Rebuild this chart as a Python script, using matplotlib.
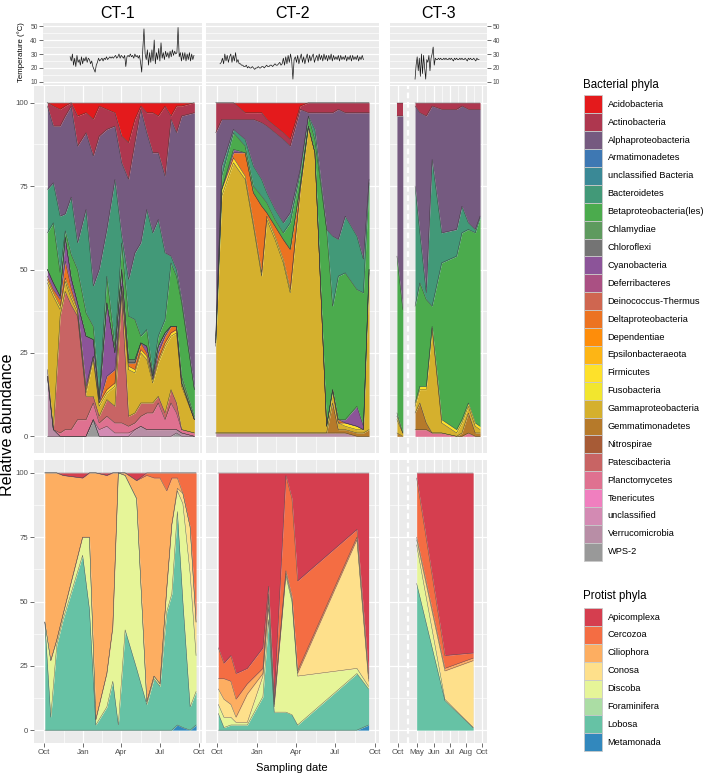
import matplotlib
matplotlib.use("Agg")
import matplotlib.pyplot as plt
import numpy as np
from matplotlib.patches import Rectangle

plt.rcParams['font.family'] = ['Liberation Sans', 'DejaVu Sans']

# ---------------- data ----------------
bact_phyla = ["Acidobacteria", "Actinobacteria", "Alphaproteobacteria", "Armatimonadetes",
              "unclassified Bacteria", "Bacteroidetes", "Betaproteobacteria(les)", "Chlamydiae",
              "Chloroflexi", "Cyanobacteria", "Deferribacteres", "Deinococcus-Thermus",
              "Deltaproteobacteria", "Dependentiae", "Epsilonbacteraeota", "Firmicutes",
              "Fusobacteria", "Gammaproteobacteria", "Gemmatimonadetes", "Nitrospirae",
              "Patescibacteria", "Planctomycetes", "Tenericutes", "unclassified",
              "Verrucomicrobia", "WPS-2"]
bact_colors = ["#E41A1C", "#AE374F", "#755A80", "#3E78B3", "#3A8996", "#429978", "#4BAB4D",
               "#5E9A5E", "#747474", "#8C5499", "#AA5083", "#CF6650", "#EC7321", "#FE8D0A",
               "#FDB515", "#FEE12A", "#F2E62E", "#D5B02D", "#B67A2A", "#A75B36", "#C86464",
               "#DF7190", "#F07FBF", "#D38AB3", "#B88EA6", "#999999"]

prot_phyla = ["Apicomplexa", "Cercozoa", "Ciliophora", "Conosa", "Discoba",
              "Foraminifera", "Lobosa", "Metamonada"]
prot_colors = ["#D53E4F", "#F46D43", "#FDAE61", "#FEE08B", "#E6F598",
               "#ABDDA4", "#66C2A5", "#3288BD"]

# sampling days (days since 1 October)
ct1_days = [8, 22, 38, 50, 64, 79, 99, 116, 130, 148, 167, 183, 199, 214, 228, 242, 256,
            269, 285, 299, 312, 324, 354]
ct1_bact = {
    "Acidobacteria": [0, 1, 2, 1, 0, 4, 3, 5, 1, 2, 3, 10, 12, 5, 1, 3, 3, 4, 1, 4, 1, 1, 0],
    "Actinobacteria": [1, 6, 5, 3, 1, 9, 6, 11, 9, 6, 4, 8, 11, 7, 1, 6, 12, 11, 21, 1, 8, 3, 3],
    "Alphaproteobacteria": [25, 17, 27, 29, 27, 29, 23, 39, 40, 30, 16, 22, 30, 33, 40, 23, 24,
                            20, 23, 41, 41, 55, 83],
    "Bacteroidetes": [13, 12, 17, 5, 17, 8, 31, 12, 38, 14, 50, 2, 11, 20, 28, 36, 42, 35, 20,
                      2, 2, 1, 0],
    "Betaproteobacteria(les)": [11, 18, 7, 2, 7, 10, 7, 4, 1, 8, 2, 8, 13, 12, 2, 5, 1, 3, 4,
                                19, 15, 22, 8],
    "Chlamydiae": [0] * 21 + [2, 1],
    "Chloroflexi": [0] * 12 + [1, 1] + [0] * 9,
    "Cyanobacteria": [2, 2, 1, 7, 3, 2, 15, 5, 1, 22, 5, 5, 0, 0, 0, 2, 1, 2, 1, 0, 0, 0, 0],
    "Deltaproteobacteria": [1, 1, 2, 5, 2, 0, 1, 0, 0, 4, 4, 0, 1, 2, 2, 1, 0, 2, 2, 2, 1, 0, 0],
    "Firmicutes": [1] * 22 + [0],
    "Gammaproteobacteria": [26, 40, 2, 3, 2, 1, 1, 11, 3, 2, 6, 2, 14, 12, 15, 13, 6, 10, 20,
                            16, 21, 13, 4],
    "Patescibacteria": [2, 0, 35, 41, 37, 31, 7, 2, 2, 5, 5, 38, 3, 3, 4, 3, 3, 2, 2, 4, 3, 0, 0],
    "Planctomycetes": [0, 0, 1, 2, 2, 5, 5, 5, 2, 3, 3, 3, 2, 2, 3, 5, 5, 8, 3, 8, 5, 1, 1],
    "unclassified": [0, 0, 0, 0, 0, 0, 0, 0, 2, 3, 1, 1, 1, 0, 0, 0, 0, 0, 0, 0, 0, 0, 0],
    "Verrucomicrobia": [18, 2, 0, 0, 0, 0, 0, 0, 0, 0, 0, 0, 0, 2, 3, 2, 2, 2, 2, 2, 1, 1, 0],
    "WPS-2": [0, 0, 0, 0, 0, 0, 0, 5, 0, 0, 0, 0, 0, 0, 0, 0, 0, 0, 0, 0, 1, 0, 0],
}

ct2_days = [-3, 11, 38, 65, 84, 103, 115, 134, 153, 169, 192, 211, 226, 253, 267, 280, 296,
            323, 338, 351]
ct2_bact = {
    "Acidobacteria": [0, 0, 0, 3, 3, 3, 5, 7, 9, 11, 1, 0, 0, 0, 0, 0, 0, 0, 0, 0],
    "Actinobacteria": [9, 5, 5, 2, 2, 3, 2, 2, 2, 2, 1, 3, 3, 3, 3, 2, 3, 3, 3, 3],
    "Alphaproteobacteria": [61, 14, 3, 6, 14, 17, 20, 23, 25, 20, 18, 1, 5, 35, 37, 39, 31, 37,
                            44, 20],
    "Bacteroidetes": [1, 3, 1, 2, 6, 5, 3, 3, 3, 3, 1, 0, 3, 0, 21, 11, 17, 16, 10, 1],
    "Betaproteobacteria(les)": [1, 4, 5, 2, 2, 3, 3, 2, 2, 8, 4, 3, 4, 59, 25, 43, 44, 35, 40, 26],
    "Cyanobacteria": [0, 0, 1, 0, 0, 0, 0, 0, 0, 0, 0, 0, 0, 0, 0, 0, 1, 6, 1, 0],
    "Deltaproteobacteria": [0, 0, 1.5, 7, 9, 20, 1, 3, 6, 12, 1, 0, 0, 0, 0, 1, 0, 0, 0, 0],
    "Firmicutes": [1, 2, 1.5, 1, 1, 1, 1, 1, 1, 1, 0.5, 0.5, 0, 0, 0.5, 0, 1, 1, 0, 1],
    "Gammaproteobacteria": [26, 71, 81, 76, 62, 47, 64, 58, 51, 42, 72.5, 91.5, 84, 2, 3.5, 2,
                            1, 1, 1, 47],
    "Gemmatimonadetes": [0] * 14 + [9, 1, 1, 1, 1, 2],
    "Verrucomicrobia": [1] * 17 + [0, 0, 0],
}

# CT-3 uses a broken axis: the early October samples sit left of the break
ct3_break = 34
ct3_days = [13, 24, 47, 56, 68, 79, 97, 125, 135, 147, 160, 169]
ct3_bact = {
    "Actinobacteria": [4, 4, 1, 3, 4, 1, 2, 2, 1, 2, 2, 2],
    "Alphaproteobacteria": [42, 58, 24, 36, 53, 16, 37, 36, 30, 34, 36, 32],
    "Bacteroidetes": [0, 0, 36, 15, 2, 44, 9, 8, 8, 2, 1, 0.5],
    "Betaproteobacteria(les)": [47, 37, 29, 31, 26, 6, 47, 52, 56, 52, 57, 62.5],
    "Chlamydiae": [1, 0, 0, 0, 0, 0, 0, 0, 0, 0, 0, 0],
    "Firmicutes": [1, 0, 1, 1, 1, 0.5, 1, 1, 1, 1, 1, 1],
    "Gammaproteobacteria": [4, 1, 2, 4, 10, 31.5, 3, 1, 3, 2, 2, 1],
    "Gemmatimonadetes": [1, 0, 5, 8, 2, 0, 0, 0, 1, 6, 1, 1],
    "Planctomycetes": [0, 0, 2, 2, 2, 1, 1, 0, 0, 1, 0, 0],
}

ct1_prot_days = [2, 16, 30, 45, 91, 107, 122, 148, 162, 175, 191, 218, 242, 259, 273, 289,
                 301, 314, 327, 344, 358]
ct1_prot = {
    "Apicomplexa": [0, 0, 0, 1, 2, 0, 0, 1, 0, 0, 0, 3, 0, 0, 0, 0, 0, 0, 0, 0, 0],
    "Cercozoa": [0, 0, 0, 0, 0, 0, 0, 0, 0, 0, 0, 0, 1, 2, 2, 7, 2, 2, 8, 21, 58],
    "Ciliophora": [58, 73, 65, 54, 23, 25, 96, 77, 60, 0, 1, 7, 88, 77, 80, 38, 18, 4, 0, 0, 0],
    "Conosa": [0] * 17 + [1, 4, 18, 13],
    "Discoba": [0, 22, 2, 2, 7, 28, 2, 13, 21, 98, 60, 66, 1, 1, 1, 9, 27, 8, 38, 52, 14],
    "Lobosa": [42, 5, 33, 43, 68, 47, 2, 9, 19, 2, 39, 24, 10, 20, 17, 46, 53, 83, 49, 9, 13],
    "Metamonada": [0] * 17 + [2, 1, 0, 2],
}

ct2_prot_days = [3, 16, 32, 44, 70, 106, 119, 132, 159, 173, 186, 323, 350]
ct2_prot = {
    "Apicomplexa": [68, 74, 71, 78, 76, 68, 44, 88, 1, 10, 42, 22, 78],
    "Cercozoa": [12, 6, 10, 10, 6, 8, 3, 1, 37, 38, 35, 3, 2],
    "Ciliophora": [4, 8, 9, 7, 4, 2, 2, 1, 1, 1, 1, 1, 1],
    "Conosa": [6, 7, 5, 2, 11, 1, 3, 1, 1, 1, 1, 50, 2],
    "Discoba": [3.5, 4, 3, 1, 1, 8, 5, 2, 53, 44, 19, 2, 1],
    "Lobosa": [6.5, 1, 2, 2, 2, 13, 43, 7, 7, 6, 2, 22, 14],
    "Metamonada": [0] * 12 + [2],
}

ct3_prot_days = [50, 103, 156]
ct3_prot = {
    "Apicomplexa": [2, 71, 70],
    "Cercozoa": [23, 5, 2],
    "Ciliophora": [1, 1, 1],
    "Conosa": [2, 11, 26],
    "Discoba": [15, 0.5, 0],
    "Lobosa": [57, 11.5, 1],
}

# temperature logger readings (evenly spaced between first and last day)
ct1_temp_span = (44, 352)
ct1_temp = [28, 25, 30, 22, 27, 21, 29, 24, 26, 22, 28, 23, 27, 25, 28, 24, 27, 26, 23, 25,
            21, 19, 17, 22,
            24, 27, 25, 26, 27, 25, 27, 26, 28, 26, 27, 28, 27, 28, 27,
            28, 29, 27, 28, 30, 27, 29, 28, 27, 29, 21, 28, 29, 28, 30, 28, 29, 27, 30, 28,
            29, 27, 29, 24, 17,
            34, 48, 30, 26,
            33, 22, 31, 24, 33, 25, 40, 23, 31, 26, 34, 25, 38, 27, 31, 26, 32, 28, 31, 27,
            32, 28, 33, 29, 32, 30, 31,
            49,
            28, 31, 25, 31, 26, 31, 25, 30, 26, 31, 25, 30, 26, 29]
ct2_temp_span = (7, 338)
ct2_temp = [23, 24, 27, 23, 30, 25, 29, 24, 28, 30, 24, 29, 25, 31, 24, 26, 23,
            23, 22, 22, 21, 21, 22, 20, 21, 20, 20, 21, 20, 19, 20, 20, 21, 20, 20, 21, 21,
            20, 21, 22, 21, 21, 22, 22, 21, 22, 23, 22, 22, 23, 24, 22, 23,
            27, 22, 28, 23, 29, 24, 30, 25, 12, 26, 28, 24, 29, 23, 27, 30, 24, 28, 23, 27,
            30, 24, 29, 25, 28, 30, 24, 27,
            29, 25, 30, 26, 29, 25, 30, 26, 29, 25, 29, 26, 30, 25, 29, 26, 28, 26, 29, 25,
            29, 26, 28, 26, 29, 25, 28, 26, 29, 25, 29, 26, 28, 26, 29, 25, 28, 26, 29, 26]
ct3_temp_span = (47, 167)
ct3_temp = [12, 22, 28, 18, 27, 14, 30, 16, 29, 20, 12, 26, 24, 29, 18, 27, 30, 35, 22, 27, 26,
            26, 27, 26, 27, 26, 26, 27, 26, 27, 26, 26, 27, 26, 27, 26, 25, 27, 26, 27, 26,
            26, 27, 26, 27, 26, 26, 27, 26, 25, 27, 26, 27, 26, 26, 27, 26, 25, 27, 26, 26]

month_ticks = [0, 92, 182, 273, 365]
month_minor = [46, 137, 228, 319]
month_labels = ["Oct", "Jan", "Apr", "Jul", "Oct"]
ct3_ticks = [15, 51, 82, 112, 143, 173]
ct3_minor = [66, 97, 128, 158]
ct3_labels = ["Oct", "May", "Jun", "Jul", "Aug", "Oct"]

# ---------------- figure ----------------
W, H = 705, 776
fig = plt.figure(figsize=(W / 100, H / 100), dpi=100)
BG = "#EBEBEB"
TICK_C = "#4D4D4D"


def add_ax(x0, y0, x1, y1):
    return fig.add_axes([x0 / W, 1 - y1 / H, (x1 - x0) / W, (y1 - y0) / H])


def style(ax, xlim, ylim, xmaj, xmin, ymaj, ymin, vgrid=True):
    ax.set_facecolor(BG)
    ax.set_xlim(*xlim)
    ax.set_ylim(*ylim)
    ax.set_xticks(xmaj)
    ax.set_xticks(xmin, minor=True)
    ax.set_yticks(ymaj)
    ax.set_yticks(ymin, minor=True)
    ax.grid(True, which="major", color="white", lw=0.9)
    ax.grid(True, which="minor", color="white", lw=0.45)
    if not vgrid:
        ax.xaxis.grid(False, which="both")
    ax.set_axisbelow(True)
    for s in ax.spines.values():
        s.set_visible(False)
    ax.tick_params(which="both", length=0, labelleft=False, labelbottom=False,
                   labelright=False)
    ax.tick_params(which="major", color="#333333", width=0.5, labelcolor=TICK_C)


def matrix(site, names, n):
    m = np.array([site.get(nm, [0] * n) for nm in names], dtype=float)
    return m / m.sum(axis=0) * 100


def draw_area(ax, x, mat, colors, edge, lw):
    x = np.asarray(x, dtype=float)
    base = np.zeros(mat.shape[1])
    tops = []
    for row, col in zip(mat[::-1], colors[::-1]):
        top = base + row
        if row.any():
            ax.fill_between(x, base, top, color=col, lw=0, zorder=2)
            tops.append(top)
        base = top
    for top in tops:
        ax.plot(x, top, color=edge, lw=lw, zorder=3, solid_joinstyle="miter")


columns = [
    # name, panel x0, x1, temp x0, xlim, ticks, minor, labels
    ("CT-1", 34, 202, 43, (-23.5, 372), month_ticks, month_minor, month_labels),
    ("CT-2", 206, 379, 206, (-25.4, 374), month_ticks, month_minor, month_labels),
    ("CT-3", 390, 487, 390, (0, 182), ct3_ticks, ct3_minor, ct3_labels),
]
bact_sites = [(ct1_days, ct1_bact), (ct2_days, ct2_bact), (ct3_days, ct3_bact)]
prot_sites = [(ct1_prot_days, ct1_prot), (ct2_prot_days, ct2_prot), (ct3_prot_days, ct3_prot)]
temp_sites = [(ct1_temp_span, ct1_temp), (ct2_temp_span, ct2_temp), (ct3_temp_span, ct3_temp)]

pct_ticks = [0, 25, 50, 75, 100]
pct_minor = [12.5, 37.5, 62.5, 87.5]

for ci, (name, x0, x1, tx0, xlim, xt, xm, xl) in enumerate(columns):
    # temperature
    axt = add_ax(tx0, 23, x1, 85)
    style(axt, xlim, (7.8, 52.2), xt, xm, [10, 20, 30, 40, 50], [15, 25, 35, 45], vgrid=False)
    span, temp = temp_sites[ci]
    tx = np.linspace(span[0], span[1], len(temp))
    axt.plot(tx, temp, color="black", lw=0.5, alpha=0.9, zorder=3)
    if ci == 0:
        axt.tick_params(axis="y", which="major", length=2.7, labelleft=True, labelsize=4.8,
                        pad=1.2)
    if ci == 2:
        axt.yaxis.tick_right()
        axt.tick_params(axis="y", which="major", length=2.7, labelright=True, labelsize=4.8,
                        pad=1.2)
        axt.tick_params(axis="y", which="minor", length=0)

    # bacteria
    axb = add_ax(x0, 86, x1, 453)
    style(axb, xlim, (-5, 105), xt, xm, pct_ticks, pct_minor)
    days, site = bact_sites[ci]
    mat = matrix(site, bact_phyla, len(days))
    days = np.asarray(days)
    if name == "CT-3":
        for mask in (days < ct3_break, days > ct3_break):
            draw_area(axb, days[mask], mat[:, mask], bact_colors, "#3a3a3a", 0.3)
    else:
        draw_area(axb, days, mat, bact_colors, "#3a3a3a", 0.3)
    if ci == 0:
        axb.set_yticklabels(["0", "25", "50", "75", "100"])
        axb.tick_params(axis="y", which="major", length=2.7, labelleft=True, labelsize=5.6,
                        pad=1.5)

    # protists
    axp = add_ax(x0, 460, x1, 743)
    style(axp, xlim, (-5, 105), xt, xm, pct_ticks, pct_minor)
    days, site = prot_sites[ci]
    mat = matrix(site, prot_phyla, len(days))
    draw_area(axp, days, mat, prot_colors, "#555555", 0.3)
    axp.set_xticklabels(xl)
    axp.tick_params(axis="x", which="major", length=2.7, labelbottom=True, labelsize=5.7,
                    pad=1.5)
    if ci == 0:
        axp.set_yticklabels(["0", "25", "50", "75", "100"])
        axp.tick_params(axis="y", which="major", length=2.7, labelleft=True, labelsize=5.6,
                        pad=1.5)

    if name == "CT-3":
        for a in (axb, axp):
            a.axvline(ct3_break, color="white", lw=1.6, ls=(0, (2.6, 1.6)), zorder=4)

    fig.text((x0 + x1) / 2 / W, 1 - 13 / H, name, ha="center", va="center", fontsize=11.5,
             color="black")

# axis titles
fig.text(21 / W, 1 - 52 / H, "Temperature (°C)", rotation=90, ha="center", va="center",
         fontsize=5.6, color="black")
fig.text(7.5 / W, 1 - 425 / H, "Relative abundance", rotation=90, ha="center", va="center",
         fontsize=11.6, color="black")
fig.text(292 / W, 1 - 768 / H, "Sampling date", ha="center", va="center", fontsize=8,
         color="black")

# legends
leg = fig.add_axes([0, 0, 1, 1])
leg.set_xlim(0, W)
leg.set_ylim(H, 0)
leg.axis("off")


def draw_legend(title, ty, names, colors, y_first):
    leg.text(583, ty, title, fontsize=8.3, ha="left", va="center")
    step = 17.9
    for i, (nm, col) in enumerate(zip(names, colors)):
        yc = y_first + i * step
        leg.add_patch(Rectangle((583.5, yc - step / 2), 18.3, step, facecolor=col,
                                edgecolor="#C9C9C9", lw=0.6))
        leg.text(607.5, yc, nm, fontsize=6.7, ha="left", va="center")


draw_legend("Bacterial phyla", 85, bact_phyla, bact_colors, 104.3)
draw_legend("Protist phyla", 596, prot_phyla, prot_colors, 617)

fig.savefig("out.png", dpi=100)
